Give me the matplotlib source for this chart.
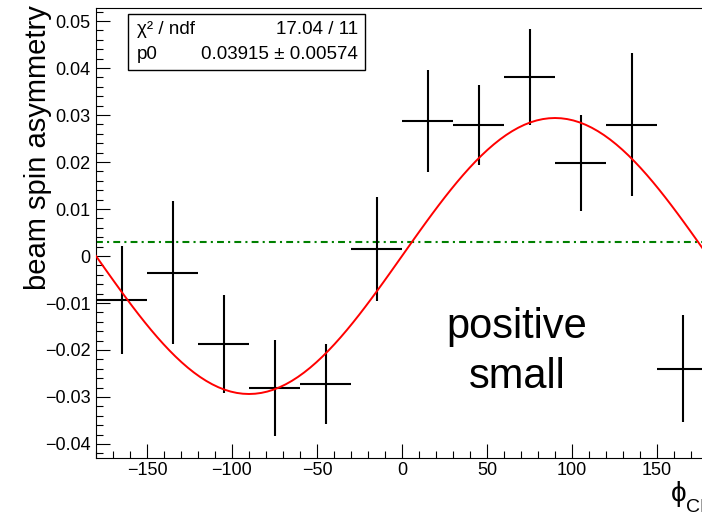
import numpy as np
import matplotlib
matplotlib.use("Agg")
import matplotlib.pyplot as plt
from matplotlib.ticker import MultipleLocator, FuncFormatter
from matplotlib.patches import Rectangle

plt.rcParams['font.family'] = ['Liberation Sans', 'DejaVu Sans']

# phi bins (centres, 30 deg wide) and measured beam spin asymmetry
phi = [-165, -135, -105, -75, -45, -15, 15, 45, 75, 105, 135, 165]
bsa = [-0.0093, -0.0036, -0.0187, -0.0281, -0.0272, 0.0015,
       0.0287, 0.0279, 0.0381, 0.0198, 0.0279, -0.0240]
bsa_err = [0.0115, 0.0152, 0.0105, 0.0103, 0.0085, 0.0110,
           0.0108, 0.0085, 0.0102, 0.0103, 0.0152, 0.0114]
bin_half = 15

# fit result
p0 = 0.03915
p0_err = 0.00574
chi2, ndf = 17.04, 11
pol_scale = 0.75
offset_line = 0.003

W, H = 702, 513
fig = plt.figure(figsize=(W / 100, H / 100), dpi=100)


def fx(px):
    return px / W


def fy(py):
    return 1 - py / H


def minus(s):
    return s.replace('-', '\u2212')


ax = fig.add_axes([fx(96), fy(458), fx(708) - fx(96), fy(8) - fy(458)])

ax.errorbar(phi, bsa, yerr=bsa_err, xerr=bin_half, fmt='none',
            ecolor='black', elinewidth=1.5, capsize=0, zorder=3)

xf = np.linspace(-180, 180, 101)
ax.plot(xf, pol_scale * p0 * np.sin(np.radians(xf)), color='red', lw=1.4, zorder=4)
ax.axhline(offset_line, color='#008000', lw=1.5, ls=(0, (3.3, 2, 1, 2)), zorder=2)

ax.set_xlim(-180, 180)
ax.set_ylim(-0.04298, 0.05277)
ax.xaxis.set_major_locator(MultipleLocator(50))
ax.xaxis.set_minor_locator(MultipleLocator(10))
ax.yaxis.set_major_locator(MultipleLocator(0.01))
ax.yaxis.set_minor_locator(MultipleLocator(0.002))
ax.yaxis.set_major_formatter(
    FuncFormatter(lambda v, p: '0' if abs(v) < 1e-9 else minus('%.2f' % v)))
ax.xaxis.set_major_formatter(FuncFormatter(lambda v, p: minus('%d' % v)))
ax.tick_params(which='both', direction='in', top=False, right=False, labelsize=13)
ax.tick_params(which='major', length=10, width=0.8)
ax.tick_params(which='minor', length=5, width=0.8)
ax.tick_params(axis='y', pad=4)
ax.tick_params(axis='x', pad=3)
for s in ax.spines.values():
    s.set_linewidth(0.8)

# axis titles
fig.text(fx(38), fy(5), 'beam spin asymmetry', rotation=90, ha='center', va='top', fontsize=21)
fig.text(fx(671), fy(494), '\u03d5', ha='left', va='center', fontsize=20)
fig.text(fx(686), fy(507), 'CM', ha='left', va='center', fontsize=14)

# annotation
fig.text(fx(517), fy(327), 'positive', ha='center', va='center', fontsize=30)
fig.text(fx(517), fy(377), 'small', ha='center', va='center', fontsize=30)

# fit statistics box
fig.patches.append(Rectangle((fx(128), fy(70)), fx(365) - fx(128), fy(14) - fy(70),
                             transform=fig.transFigure, facecolor='white',
                             edgecolor='black', lw=1.0, zorder=5))
fig.text(fx(137), fy(30), '\u03c7\u00b2 / ndf', ha='left', va='center', fontsize=13.5, zorder=6)
fig.text(fx(358), fy(30), '%.2f / %d' % (chi2, ndf), ha='right', va='center', fontsize=13.5, zorder=6)
fig.text(fx(137), fy(55), 'p0', ha='left', va='center', fontsize=13.5, zorder=6)
fig.text(fx(358), fy(55), '%.5f \u00b1 %.5f' % (p0, p0_err), ha='right', va='center', fontsize=13.5, zorder=6)

fig.savefig('out.png', dpi=100)
